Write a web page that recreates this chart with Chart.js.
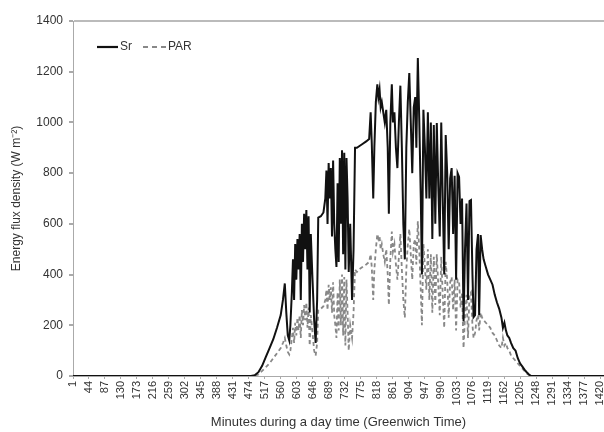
<!DOCTYPE html>
<html>
<head>
<meta charset="utf-8">
<script src="https://cdn.jsdelivr.net/npm/chart.js@4"></script>
<style>
  html, body { margin: 0; padding: 0; background: #fff; }
  #wrap { width: 604px; height: 432px; }
</style>
</head>
<body>
<div id="wrap"><canvas id="grafico"></canvas></div>
<script>
// minutes of the day (Greenwich time) and the values
var minutos = [1, 480, 490, 500, 510, 520, 530, 540, 550, 560, 566, 571, 575, 579, 583, 586, 590, 593, 596, 599,
  602, 605, 608, 611, 614, 617, 620, 623, 626, 629, 632, 635, 638, 641, 645, 650, 654, 658, 661, 668,
  675, 680, 683, 686, 689, 692, 695, 698, 701, 704, 707, 710, 713, 716, 719, 722, 725, 728, 731, 734,
  737, 740, 743, 747, 752, 756, 760, 765, 770, 780, 790, 798, 802, 805, 809, 812, 816, 820, 823, 826,
  829, 832, 836, 840, 844, 848, 851, 855, 859, 862, 866, 870, 874, 878, 882, 886, 890, 894, 898, 902,
  906, 910, 914, 918, 922, 925, 929, 933, 937, 940, 944, 948, 952, 956, 960, 964, 968, 972, 976, 980,
  984, 988, 992, 996, 1000, 1004, 1008, 1012, 1016, 1020, 1024, 1028, 1032, 1036, 1040, 1044, 1048, 1052, 1056, 1060,
  1064, 1068, 1072, 1076, 1079, 1083, 1087, 1091, 1094, 1098, 1102, 1106, 1112, 1118, 1124, 1130, 1136, 1142, 1148, 1154,
  1158, 1162, 1166, 1170, 1175, 1180, 1186, 1192, 1198, 1204, 1210, 1216, 1222, 1228, 1234, 1430];

var sr = [0, 0, 3, 15, 40, 75, 110, 145, 190, 240, 300, 365, 250, 160, 140, 200, 330, 460, 300, 520,
  380, 540, 420, 560, 300, 600, 450, 640, 500, 655, 420, 630, 250, 560, 400, 220, 130, 300, 625, 630,
  645, 700, 810, 600, 840, 700, 820, 550, 850, 600, 500, 430, 760, 450, 860, 600, 890, 480, 880, 420,
  860, 700, 410, 600, 300, 500, 900, 900, 905, 915, 925, 935, 1040, 920, 700, 900, 1080, 1150, 1100, 1130,
  1060, 1080, 1040, 1000, 1050, 900, 640, 1000, 1150, 1000, 1040, 900, 820, 1000, 1145, 900, 600, 460, 900, 1080,
  1195, 1000, 800, 1060, 1100, 900, 1254, 1000, 700, 400, 1050, 900, 700, 1040, 700, 1000, 540, 990, 600, 998,
  750, 550, 1000, 700, 400, 950, 800, 500, 780, 820, 560, 790, 380, 800, 785, 600, 700, 215, 500, 680,
  300, 690, 694, 400, 232, 240, 500, 560, 240, 556, 500, 460, 430, 400, 380, 360, 320, 290, 265, 230,
  190, 210, 180, 160, 150, 130, 110, 100, 70, 50, 38, 25, 15, 6, 0, 0];

var par = [0, 0, 1, 6, 20, 35, 50, 70, 90, 110, 130, 150, 120, 95, 85, 100, 150, 190, 130, 210,
  160, 230, 180, 240, 150, 260, 200, 280, 220, 290, 190, 270, 120, 240, 180, 100, 80, 130, 260, 265,
  275, 300, 340, 260, 360, 300, 350, 250, 370, 240, 200, 150, 330, 180, 380, 200, 400, 160, 390, 120,
  380, 250, 100, 200, 150, 250, 420, 410, 420, 430, 440, 450, 480, 430, 300, 420, 500, 560, 540, 550,
  500, 520, 480, 450, 500, 400, 280, 460, 570, 490, 520, 440, 380, 470, 560, 420, 300, 230, 420, 520,
  580, 480, 380, 520, 540, 440, 610, 490, 330, 200, 520, 430, 340, 500, 300, 480, 250, 470, 280, 480,
  360, 240, 470, 320, 190, 450, 380, 230, 370, 390, 260, 380, 180, 380, 370, 270, 330, 110, 240, 320,
  150, 320, 330, 200, 150, 170, 220, 240, 180, 250, 230, 220, 210, 200, 190, 170, 160, 140, 120, 110,
  150, 120, 130, 110, 100, 80, 70, 60, 50, 40, 30, 20, 10, 4, 0, 0];

var rotulosX = [1, 44, 87, 130, 173, 216, 259, 302, 345, 388, 431, 474, 517, 560, 603, 646, 689, 732, 775,
  818, 861, 904, 947, 990, 1033, 1076, 1119, 1162, 1205, 1248, 1291, 1334, 1377, 1420];

function pares(valores) {
  return minutos.map(function (m, i) { return { x: m, y: valores[i] }; });
}

// legend drawn inside the plot, top-left, like the original figure
var legendaInterna = {
  id: 'legendaInterna',
  afterDraw: function (chart) {
    var ctx = chart.ctx;
    ctx.save();
    ctx.font = '12px "Liberation Sans", Arial, sans-serif';
    ctx.fillStyle = '#333';
    ctx.textBaseline = 'middle';
    ctx.lineWidth = 2.2;
    ctx.strokeStyle = '#111';
    ctx.beginPath(); ctx.moveTo(97, 47); ctx.lineTo(118, 47); ctx.stroke();
    ctx.fillText('Sr', 120, 47);
    ctx.lineWidth = 1.8;
    ctx.strokeStyle = '#888';
    ctx.setLineDash([5, 4]);
    ctx.beginPath(); ctx.moveTo(143, 47); ctx.lineTo(166, 47); ctx.stroke();
    ctx.setLineDash([]);
    ctx.fillText('PAR', 168, 47);
    ctx.restore();
  }
};

var ctx = document.getElementById('grafico').getContext('2d');
var myChart = new Chart(ctx, {
  type: 'line',
  plugins: [legendaInterna],
  data: {
    datasets: [
      {
        label: 'Sr',
        data: pares(sr),
        borderColor: '#111',
        borderWidth: 2,
        pointRadius: 0,
        tension: 0
      },
      {
        label: 'PAR',
        data: pares(par),
        borderColor: '#888',
        borderWidth: 1.8,
        borderDash: [4, 3],
        pointRadius: 0,
        tension: 0
      }
    ]
  },
  options: {
    responsive: true,
    maintainAspectRatio: false,
    animation: false,
    layout: { padding: { top: 21, right: 0, left: 0, bottom: 0 } },
    plugins: {
      legend: { display: false },
      tooltip: { enabled: false }
    },
    scales: {
      x: {
        type: 'linear',
        min: 1,
        max: 1430,
        afterBuildTicks: function (scale) {
          scale.ticks = rotulosX.map(function (v) { return { value: v }; });
        },
        afterFit: function (scale) {
          scale.height = 56;
          scale.paddingLeft = 0;
          scale.paddingRight = 0;
        },
        border: { color: '#aaa', width: 1 },
        grid: { drawOnChartArea: false, tickColor: '#aaa', tickLength: 3 },
        ticks: {
          autoSkip: false,
          minRotation: 90,
          maxRotation: 90,
          padding: 2,
          color: '#333',
          font: { family: '"Liberation Sans", Arial, sans-serif', size: 11 },
          callback: function (v) { return String(v); }
        },
        title: {
          display: true,
          text: 'Minutes during a day time (Greenwich Time)',
          color: '#333',
          font: { family: '"Liberation Sans", Arial, sans-serif', size: 13 },
          padding: { top: 0, bottom: 2 }
        }
      },
      y: {
        min: 0,
        max: 1400,
        afterFit: function (scale) {
          scale.width = 73;
        },
        border: { color: '#aaa', width: 1 },
        grid: {
          color: function (c) { return c.tick && c.tick.value === 1400 ? '#bbb' : 'rgba(0,0,0,0)'; },
          lineWidth: 2,
          tickColor: '#aaa',
          tickLength: 4
        },
        ticks: {
          stepSize: 200,
          padding: 6,
          color: '#333',
          font: { family: '"Liberation Sans", Arial, sans-serif', size: 12 },
          callback: function (v) { return String(v); }
        },
        title: {
          display: true,
          text: 'Energy flux density (W m\u207B\u00B2)',
          color: '#333',
          font: { family: '"Liberation Sans", Arial, sans-serif', size: 12 },
          padding: { top: 9, bottom: 0 }
        }
      }
    }
  }
});
</script>
</body>
</html>
